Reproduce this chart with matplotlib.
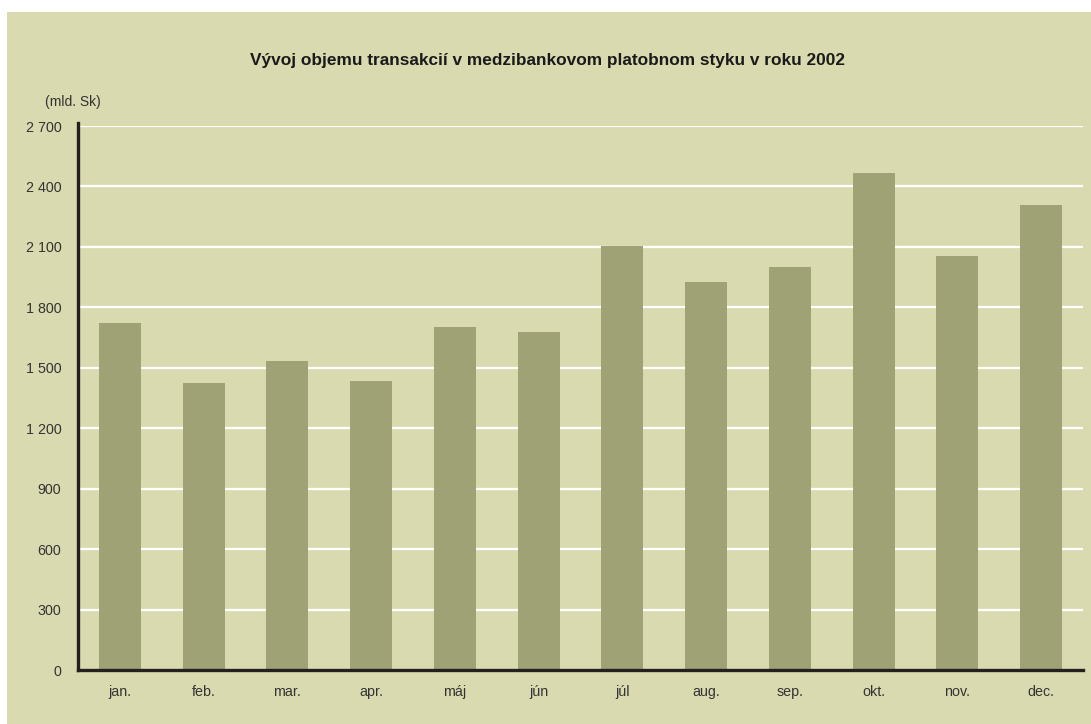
import matplotlib
matplotlib.use("Agg")
import matplotlib.pyplot as plt
from matplotlib.patches import Rectangle

months = ["jan.", "feb.", "mar.", "apr.", "máj", "jún", "júl", "aug.", "sep.", "okt.", "nov.", "dec."]
values = [1722, 1424, 1533, 1434, 1702, 1677, 2104, 1925, 2000, 2466, 2055, 2308]
yticks = [0, 300, 600, 900, 1200, 1500, 1800, 2100, 2400, 2700]
ytick_labels = ["0", "300", "600", "900", "1 200", "1 500", "1 800", "2 100", "2 400", "2 700"]
title = "Vývoj objemu transakcií v medzibankovom platobnom styku v roku 2002"
unit = "(mld. Sk)"

W, H = 1091, 724
bg = "#dadab0"
bar_col = "#9ea274"
dark = "#231f20"
txt = "#333333"

plt.rcParams['font.family'] = ['Liberation Sans', 'DejaVu Sans']

fig = plt.figure(figsize=(W / 100, H / 100), dpi=100, facecolor="white")
fig.patches.append(Rectangle((7 / W, 0), 1 - 7 / W, 1 - 12 / H, transform=fig.transFigure,
                             facecolor=bg, edgecolor="none", zorder=-10))

ax = fig.add_axes([78 / W, 1 - 670 / H, (1083 - 78) / W, (670 - 126) / H])
ax.set_facecolor(bg)
ax.patch.set_alpha(0)

x = list(range(len(months)))
ax.bar(x, values, width=0.5, color=bar_col, zorder=3)
ax.set_xlim(-0.5, len(months) - 0.5)
ax.set_ylim(0, 2700)
ax.set_yticks(yticks)
ax.set_yticklabels(ytick_labels)
ax.set_xticks(x)
ax.set_xticklabels(months)

for t in yticks[1:]:
    ax.axhline(t, color="white", lw=1.6, zorder=1)

for s in ["top", "right"]:
    ax.spines[s].set_visible(False)
for s in ["left", "bottom"]:
    ax.spines[s].set_color(dark)
    ax.spines[s].set_linewidth(2.4)
    ax.spines[s].set_zorder(5)
ax.spines["left"].set_bounds(0, 2715)

ax.tick_params(axis="both", length=0, labelsize=10.3, colors=txt)
ax.tick_params(axis="y", pad=12)
ax.tick_params(axis="x", pad=11)

fig.text(548 / W, 1 - 60 / H, title, ha="center", va="center", fontsize=12.4,
         fontweight="bold", color="#1a1a1a")
fig.text(45 / W, 1 - 102 / H, unit, ha="left", va="center", fontsize=10, color=txt)

fig.savefig("out.png", dpi=100, facecolor="white")
